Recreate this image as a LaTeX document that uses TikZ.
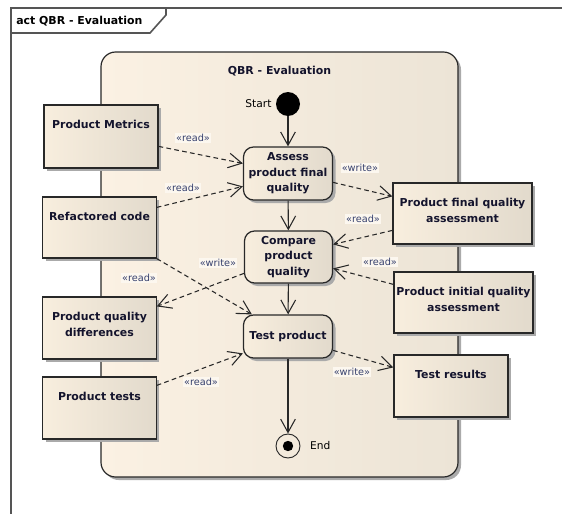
\documentclass[tikz,border=0pt]{standalone}
\usepackage{fontspec}
\setmainfont{DejaVu Sans}
\usetikzlibrary{positioning,arrows.meta,calc,shadows}

\definecolor{framegray}{RGB}{85,85,85}
\definecolor{linegray}{RGB}{40,40,40}
\definecolor{partlight}{RGB}{251,241,227}
\definecolor{partdark}{RGB}{236,228,214}
\definecolor{objlight}{RGB}{248,238,222}
\definecolor{objdark}{RGB}{226,218,204}
\definecolor{stereoblue}{RGB}{55,65,110}
\definecolor{stereobg}{RGB}{252,247,239}
\definecolor{textnavy}{RGB}{20,20,45}
\definecolor{shadowgray}{RGB}{170,170,170}

\newcommand\objfont{\fontsize{8.2}{12}\selectfont\bfseries}
\newcommand\actfont{\fontsize{8.2}{11.5}\selectfont\bfseries}
\newcommand\stereofont{\fontsize{7.3}{8}\selectfont}
\newcommand\plainfont{\fontsize{8}{10}\selectfont}

\begin{document}
\begin{tikzpicture}[x=0.75pt,y=-0.75pt,
    boxshadow/.style={drop shadow={shadow xshift=2.25pt,shadow yshift=-2.25pt,fill=shadowgray,opacity=1}},
    objtext/.style={anchor=north,yshift=-11.5pt,font=\objfont,text=textnavy,align=center,inner sep=0pt},
    objbox/.style={draw=linegray,line width=0.9pt,left color=objlight,right color=objdark,boxshadow,
        inner sep=0pt,minimum width=85pt,minimum height=46.5pt},
    partbox/.style={draw=linegray,line width=0.9pt,rounded corners=11pt,left color=partlight,right color=partdark,
        boxshadow,inner sep=0pt,minimum width=267.75pt,minimum height=318.75pt},
    actbox/.style={draw=linegray,line width=0.9pt,rounded corners=7.5pt,left color=objlight,right color=objdark,
        boxshadow,inner sep=0pt,minimum width=66.75pt,minimum height=39.75pt,align=center,font=\actfont,text=textnavy},
    startdot/.style={circle,fill=black,minimum size=18pt,inner sep=0pt},
    endring/.style={circle,draw=linegray,line width=0.7pt,minimum size=18pt,inner sep=0pt},
    ctrlflow/.style={draw=linegray,line width=0.8pt,-{Straight Barb[length=10pt,width=11pt]}},
    dataflow/.style={ctrlflow,dash pattern=on 3.5pt off 2.5pt},
    stereo/.style={font=\stereofont,text=stereoblue,fill=stereobg,inner sep=1pt}]

    \useasboundingbox (0,0) rectangle (562,514);

    % Frame
    \draw[framegray,line width=1.2pt] (562,8) -- (11,8) -- (11,514);
    \draw[framegray,line width=1.2pt] (11,33) -- (150,33) -- (166,15) -- (166,8);
    \node[font=\objfont,anchor=west,inner sep=0pt] (frametitle) at (16,21) {act QBR - Evaluation};

    % Activity region
    \node[partbox,label={[objtext,yshift=0.5pt]north:QBR - Evaluation}] (qbr) at (279.5,264.5) {};

    % Start and end
    \node[startdot,label={[font=\plainfont,inner sep=0pt,xshift=-3pt]left:Start}] (start) at (288,104) {};
    \node[endring,label={[font=\plainfont,inner sep=0pt,xshift=7pt]right:End}] (end) at (288,446) {};
    \fill[black] (end.center) circle (3.9pt);

    % Actions
    \node[actbox] (assess) at (288,173.5) {Assess\\product final\\quality};
    \node[actbox,minimum width=66pt,minimum height=39pt] (compare) at (288.5,257) {Compare\\product\\quality};
    \node[actbox,minimum height=32.25pt] (test) at (288,336.5) {Test product};

    % Objects
    \node[objbox,minimum width=85.5pt,minimum height=47.25pt,label={[objtext]north:Product Metrics}] (pm) at (101,136.5) {};
    \node[objbox,minimum height=45.75pt,label={[objtext]north:Refactored code}] (rc) at (99.5,227.5) {};
    \node[objbox,label={[objtext]north:{Product quality\\differences}}] (pqd) at (99.5,328) {};
    \node[objbox,label={[objtext]north:Product tests}] (pt) at (99.5,408) {};
    \node[objbox,minimum width=104.25pt,minimum height=45.75pt,label={[objtext]north:{Product final quality\\assessment}}] (pfqa) at (462.5,213.5) {};
    \node[objbox,minimum width=104.25pt,minimum height=45.75pt,label={[objtext]north:{Product initial quality\\assessment}}] (piqa) at (463.5,302.5) {};
    \node[objbox,minimum width=85.5pt,label={[objtext]north:Test results}] (tr) at (451,386) {};

    % Control flow
    \draw[ctrlflow] (start) -- (assess);
    \draw[ctrlflow] (assess) -- (compare);
    \draw[ctrlflow] (compare) -- (test);
    \draw[ctrlflow] (test) -- (end);

    % Object flow
    \draw[dataflow] ($(pm.north east)+(0,42)$) -- ($(assess.north west)+(0,17)$)
        node[stereo] at (193,138) {«read»};
    \draw[dataflow] ($(rc.north east)+(0,11)$) -- ($(assess.north west)+(0,40)$)
        node[stereo] at (183,188) {«read»};
    \draw[dataflow] ($(assess.north east)+(0,36)$) -- ($(pfqa.north west)+(0,14)$)
        node[stereo] at (360,168) {«write»};
    \draw[dataflow] ($(pfqa.north west)+(0,48)$) -- ($(compare.north east)+(0,14)$)
        node[stereo] at (363,219) {«read»};
    \draw[dataflow] ($(piqa.north west)+(0,13)$) -- ($(compare.north east)+(0,38)$)
        node[stereo] at (380,262) {«read»};
    \draw[dataflow] ($(compare.north west)+(0,43)$) -- ($(pqd.north east)+(0,10)$)
        node[stereo] at (218,263) {«write»};
    \draw[dataflow] (rc.south east) -- ($(test.north west)+(9,0)$)
        node[stereo] at (139,278) {«read»};
    \draw[dataflow] ($(pt.north east)+(0,9)$) -- ($(test.north west)+(0,39)$)
        node[stereo] at (201,382) {«read»};
    \draw[dataflow] ($(test.north east)+(0,36)$) -- ($(tr.north west)+(0,13)$)
        node[stereo] at (352,372) {«write»};
\end{tikzpicture}
\end{document}
